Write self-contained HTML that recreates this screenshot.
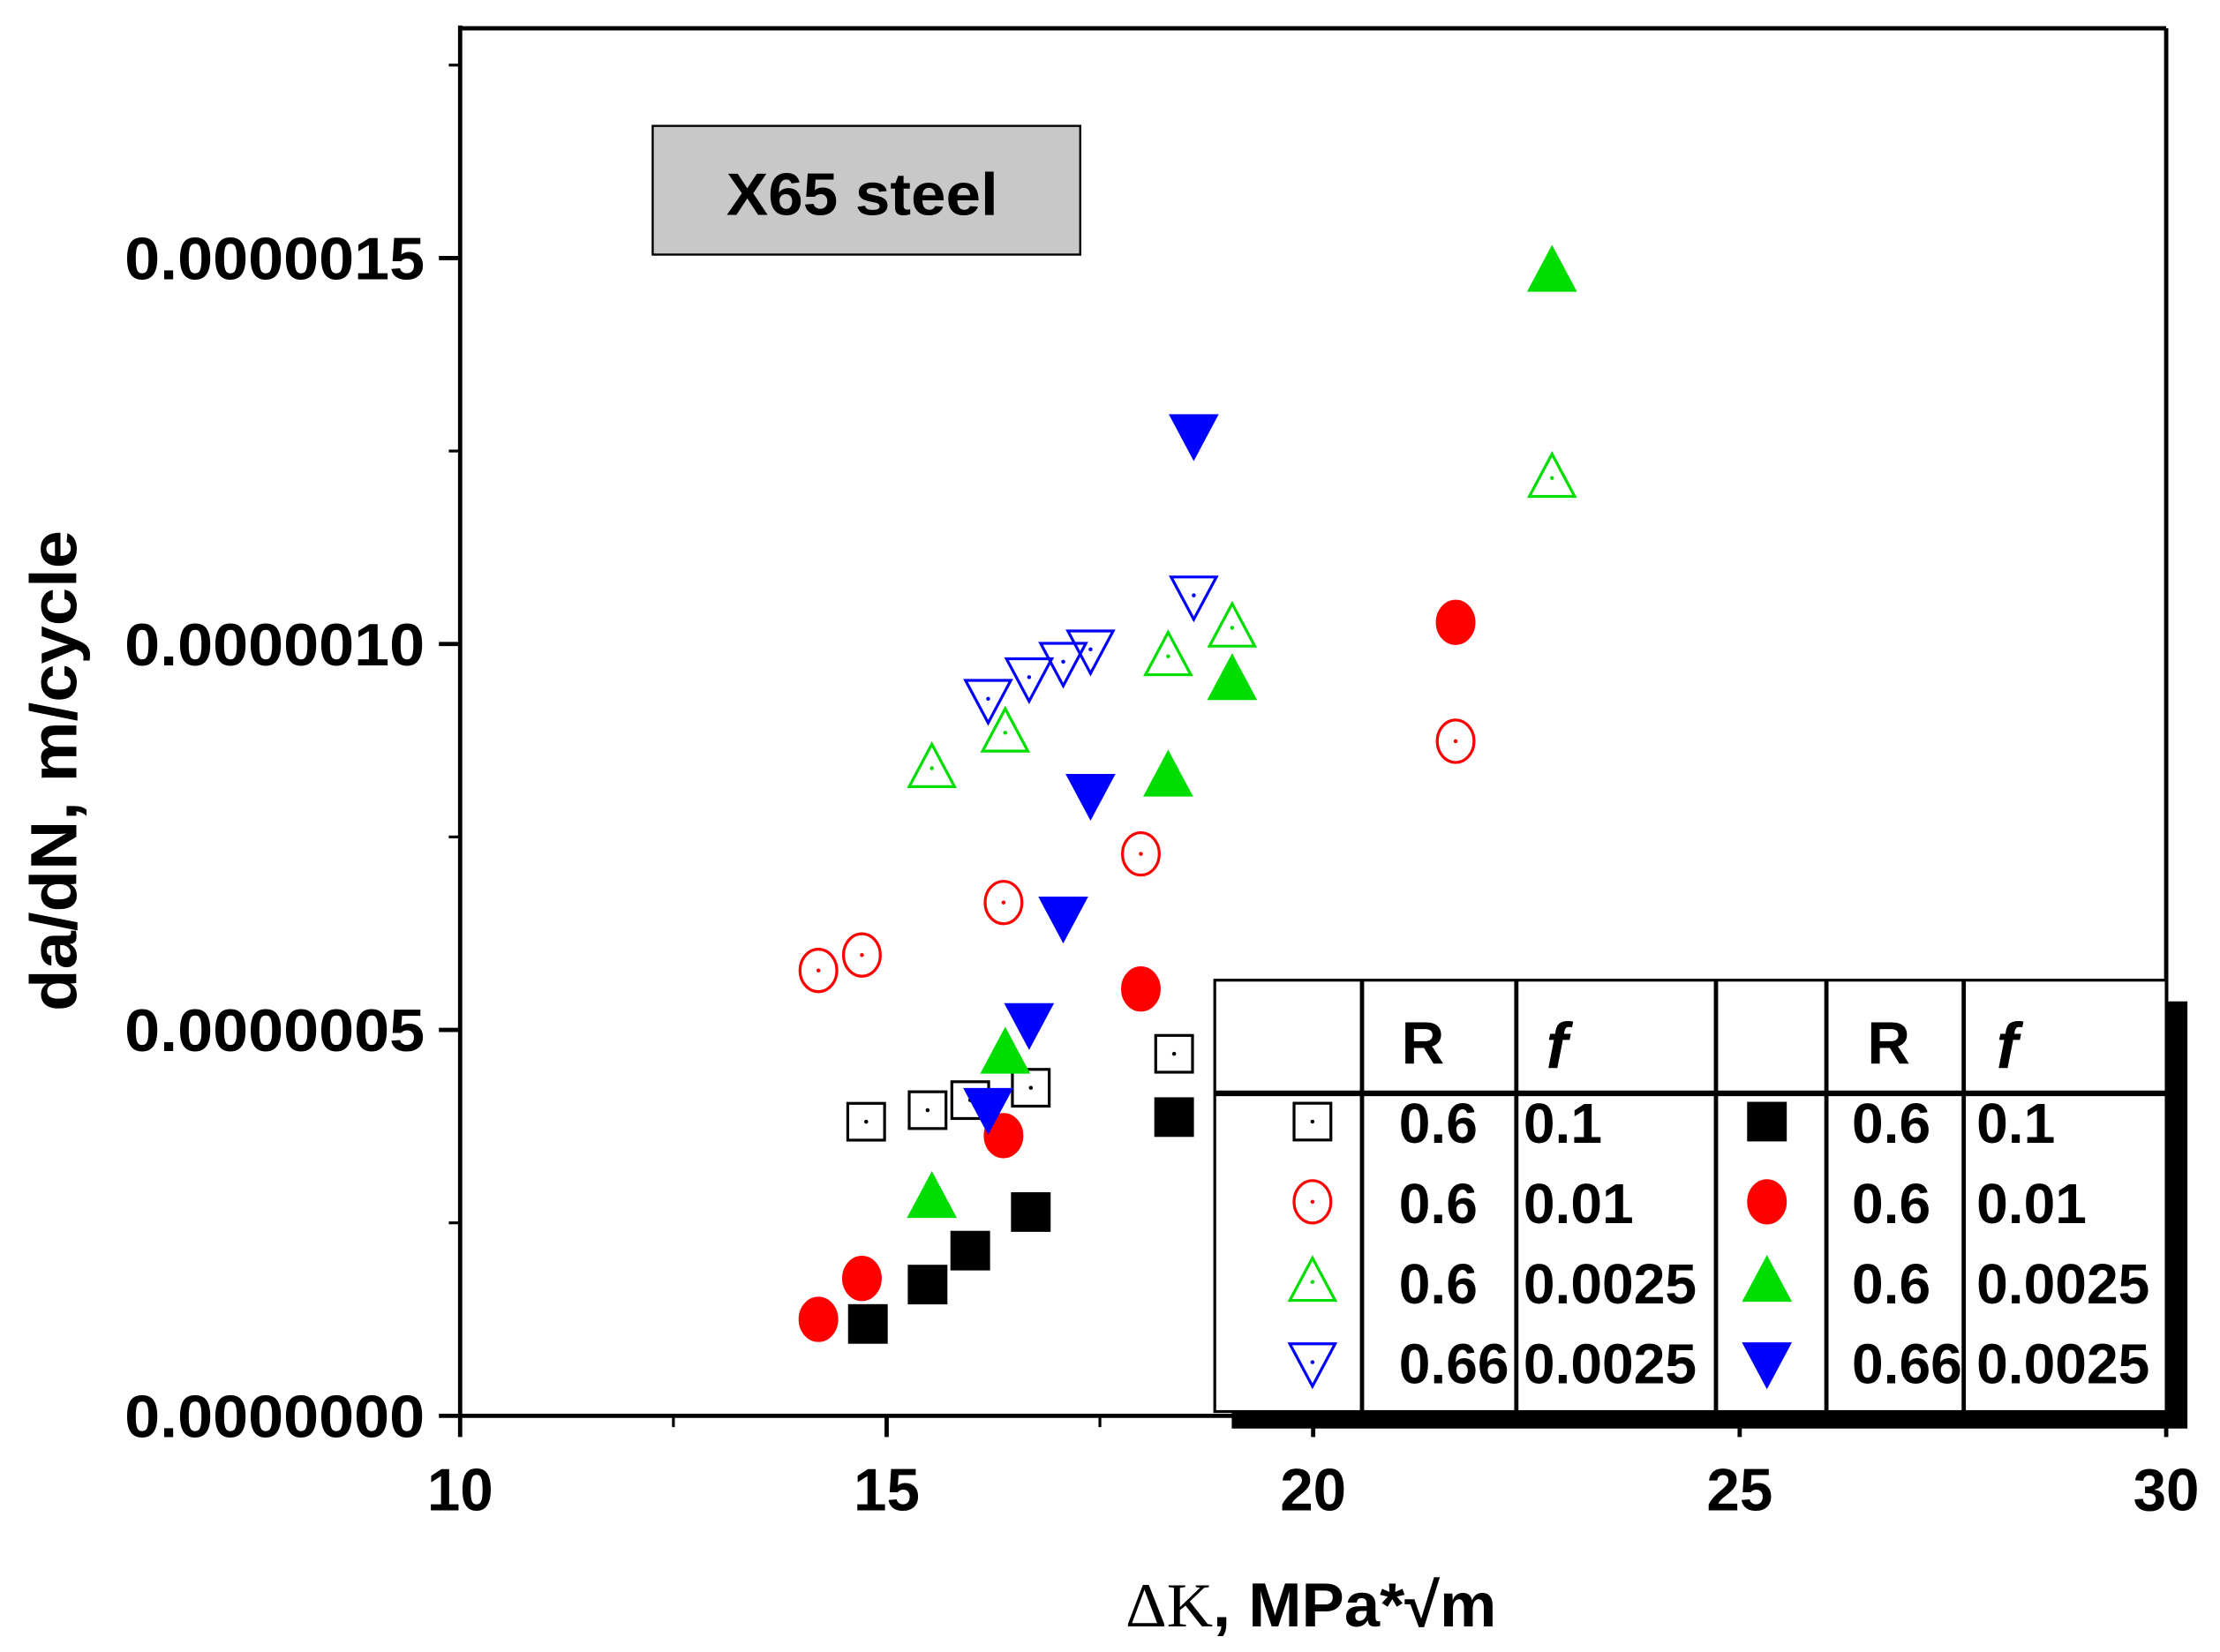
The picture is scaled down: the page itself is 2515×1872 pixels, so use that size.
<!DOCTYPE html>
<html><head><meta charset="utf-8"><style>
html,body{margin:0;padding:0;background:#fff;}
svg{display:block;}
text{font-family:"Liberation Sans",Arial,sans-serif;font-weight:bold;}
</style></head><body>
<svg id="chart" width="2515" height="1872" viewBox="0 0 1568 1168" preserveAspectRatio="none" xmlns="http://www.w3.org/2000/svg">
<rect x="0" y="0" width="1568" height="1168" fill="#fff"/>
<g id="frame">
<line x1="325" y1="20" x2="1530" y2="20" stroke="#000" stroke-width="3"/>
<line x1="1530" y1="20" x2="1530" y2="1001" stroke="#000" stroke-width="3"/>
<line x1="325" y1="18" x2="325" y2="1002" stroke="#000" stroke-width="3"/>
<line x1="324" y1="1001" x2="1531" y2="1001" stroke="#000" stroke-width="3"/>
</g>
<g id="axes"></g>
<g id="marks"></g>
<g>
<rect x="461" y="89" width="302" height="91" fill="#c8c8c8" stroke="#000" stroke-width="1.5"/>
<text x="609" y="152" font-size="42" text-anchor="middle" textLength="192" lengthAdjust="spacingAndGlyphs">X65 steel</text>
</g>
<text transform="translate(54,545) rotate(-90)" font-size="46" text-anchor="middle" textLength="340" lengthAdjust="spacingAndGlyphs">da/dN, m/cycle</text>
<text x="926" y="1150" font-size="44" text-anchor="middle" textLength="262" lengthAdjust="spacingAndGlyphs"><tspan font-family="Liberation Serif" font-weight="normal">ΔK</tspan>, MPa*√m</text>
<g id="legend">
<rect x="870" y="708" width="675" height="302" fill="#000"/>
<rect x="858" y="693" width="672" height="305" fill="#fff" stroke="#000" stroke-width="2"/>
<line x1="858" y1="773" x2="1530" y2="773" stroke="#000" stroke-width="4"/>
<line x1="962" y1="693" x2="962" y2="998" stroke="#000" stroke-width="3"/>
<line x1="1071" y1="693" x2="1071" y2="998" stroke="#000" stroke-width="3"/>
<line x1="1212" y1="693" x2="1212" y2="998" stroke="#000" stroke-width="3"/>
<line x1="1290" y1="693" x2="1290" y2="998" stroke="#000" stroke-width="3"/>
<line x1="1387" y1="693" x2="1387" y2="998" stroke="#000" stroke-width="3"/>
<text x="1005" y="752" font-size="42" text-anchor="middle">R</text>
<text x="1092" y="755" font-size="46" font-family="Liberation Serif" font-style="italic" font-weight="normal">f</text>
<text x="1334" y="752" font-size="42" text-anchor="middle">R</text>
<text x="1410" y="755" font-size="46" font-family="Liberation Serif" font-style="italic" font-weight="normal">f</text>
<g id="legrows"></g>
</g>
</svg>
<script>
const seriesX_openSquare=[14.76,15.48,15.98,16.69,18.37];
const seriesY_openSquare=[0.381,0.396,0.409,0.425,0.469];
const seriesX_fillSquare=[14.78,15.48,15.98,16.69,18.37];
const seriesY_fillSquare=[0.119,0.170,0.214,0.264,0.387];
const seriesX_openCircle=[14.20,14.71,16.37,17.98,21.67];
const seriesY_openCircle=[0.577,0.597,0.665,0.728,0.874];
const seriesX_fillCircle=[14.20,14.71,16.37,17.98,21.67];
const seriesY_fillCircle=[0.125,0.178,0.363,0.553,1.028];
const seriesX_openUp=[15.53,16.39,18.30,19.05,22.80];
const seriesY_openUp=[0.839,0.885,0.984,1.021,1.215];
const seriesX_fillUp=[15.53,16.39,18.30,19.05,22.80];
const seriesY_fillUp=[0.282,0.469,0.828,0.953,1.482];
const seriesX_openDown=[16.19,16.67,17.07,17.39,18.60];
const seriesY_openDown=[0.929,0.957,0.977,0.993,1.063];
const seriesX_fillDown=[16.19,16.67,17.07,17.39,18.60];
const seriesY_fillDown=[0.399,0.509,0.647,0.806,1.272];
const xTicks=[10,15,20,25,30];
const xTickLabels=["10","15","20","25","30"];
const yTicks=[0,0.5,1.0,1.5];
const yTickLabels=["0.0000000","0.0000005","0.0000010","0.0000015"];
const legendR=["0.6","0.6","0.6","0.66"];
const legendF=["0.1","0.01","0.0025","0.0025"];

const NS="http://www.w3.org/2000/svg";
function sx(v){return 325+(v-10)*60.25;}
function sy(v){return 1001-v*545.7;}
function mk(tag,attrs,parent){const e=document.createElementNS(NS,tag);for(const k in attrs)e.setAttribute(k,attrs[k]);parent.appendChild(e);return e;}
const axes=document.getElementById('axes');
xTicks.forEach((t,i)=>{
  const l=mk('line',{x1:sx(t),x2:sx(t),y1:1001,y2:1016,stroke:'#000','stroke-width':3},axes);
  
  
  const tx=mk('text',{x:sx(t),y:1068,'font-size':42,'text-anchor':'middle'},axes);tx.textContent=xTickLabels[i];
  
  
  if(i<xTicks.length-1){const m=mk('line',{x1:sx(t+2.5),x2:sx(t+2.5),y1:1001,y2:1009,stroke:'#000','stroke-width':2},axes);
  
  }
});
yTicks.forEach((t,i)=>{
  const l=mk('line',{x1:310,x2:325,y1:sy(t),y2:sy(t),stroke:'#000','stroke-width':3},axes);
  
  
  const tx=mk('text',{x:300,y:sy(t)+15,'font-size':42,'text-anchor':'end',textLength:212,lengthAdjust:'spacingAndGlyphs'},axes);tx.textContent=yTickLabels[i];
  
  
  const m=mk('line',{x1:317,x2:325,y1:sy(t+0.25),y2:sy(t+0.25),stroke:'#000','stroke-width':2},axes);
  
  
});
function marker(parent,shape,filled,color,x,y){
  const s=14;let e;
  const fill=filled?color:'none';
  if(shape==='sq')e=mk('rect',{x:x-s+1,y:y-s+1,width:2*s-2,height:2*s-2,fill:fill,stroke:color,'stroke-width':2},parent);
  else if(shape==='ci')e=mk('ellipse',{cx:x,cy:y,rx:s-1,ry:s+1,fill:fill,stroke:color,'stroke-width':2},parent);
  else if(shape==='up')e=mk('polygon',{points:`${x},${y-s-3} ${x-s-2},${y+s-1} ${x+s+2},${y+s-1}`,fill:fill,stroke:color,'stroke-width':2},parent);
  else e=mk('polygon',{points:`${x},${y+s+3} ${x-s-2},${y-s+1} ${x+s+2},${y-s+1}`,fill:fill,stroke:color,'stroke-width':2},parent);
  if(!filled){mk('circle',{cx:x,cy:y,r:1.4,fill:color},parent);}
  return e;
}
const marks=document.getElementById('marks');
const series=[
 ['sq',false,'#000',seriesX_openSquare,seriesY_openSquare],
 ['sq',true,'#000',seriesX_fillSquare,seriesY_fillSquare],
 ['ci',false,'#ff0000',seriesX_openCircle,seriesY_openCircle],
 ['ci',true,'#ff0000',seriesX_fillCircle,seriesY_fillCircle],
 ['up',false,'#00dd00',seriesX_openUp,seriesY_openUp],
 ['up',true,'#00dd00',seriesX_fillUp,seriesY_fillUp],
 ['dn',false,'#0000ff',seriesX_openDown,seriesY_openDown],
 ['dn',true,'#0000ff',seriesX_fillDown,seriesY_fillDown]];
series.forEach(s=>{
  s[3].forEach((xv,i)=>{
    const e=marker(marks,s[0],s[1],s[2],sx(xv),sy(s[4][i]));
    
    
  });
});
const lg=document.getElementById('legrows');
const shapes=['sq','ci','up','dn'],cols=['#000','#ff0000','#00dd00','#0000ff'];
for(let i=0;i<4;i++){
  const y=793+i*56.7;
  const a=marker(lg,shapes[i],false,cols[i],927,y);
  
  
  const b=marker(lg,shapes[i],true,cols[i],1248,y);
  
  
  [[988,legendR[i]],[1076,legendF[i]],[1308,legendR[i]],[1396,legendF[i]]].forEach(p=>{
    const t=mk('text',{x:p[0],y:y+15,'font-size':40},lg);t.textContent=p[1];
    
    
  });
}
</script>
</body></html>
